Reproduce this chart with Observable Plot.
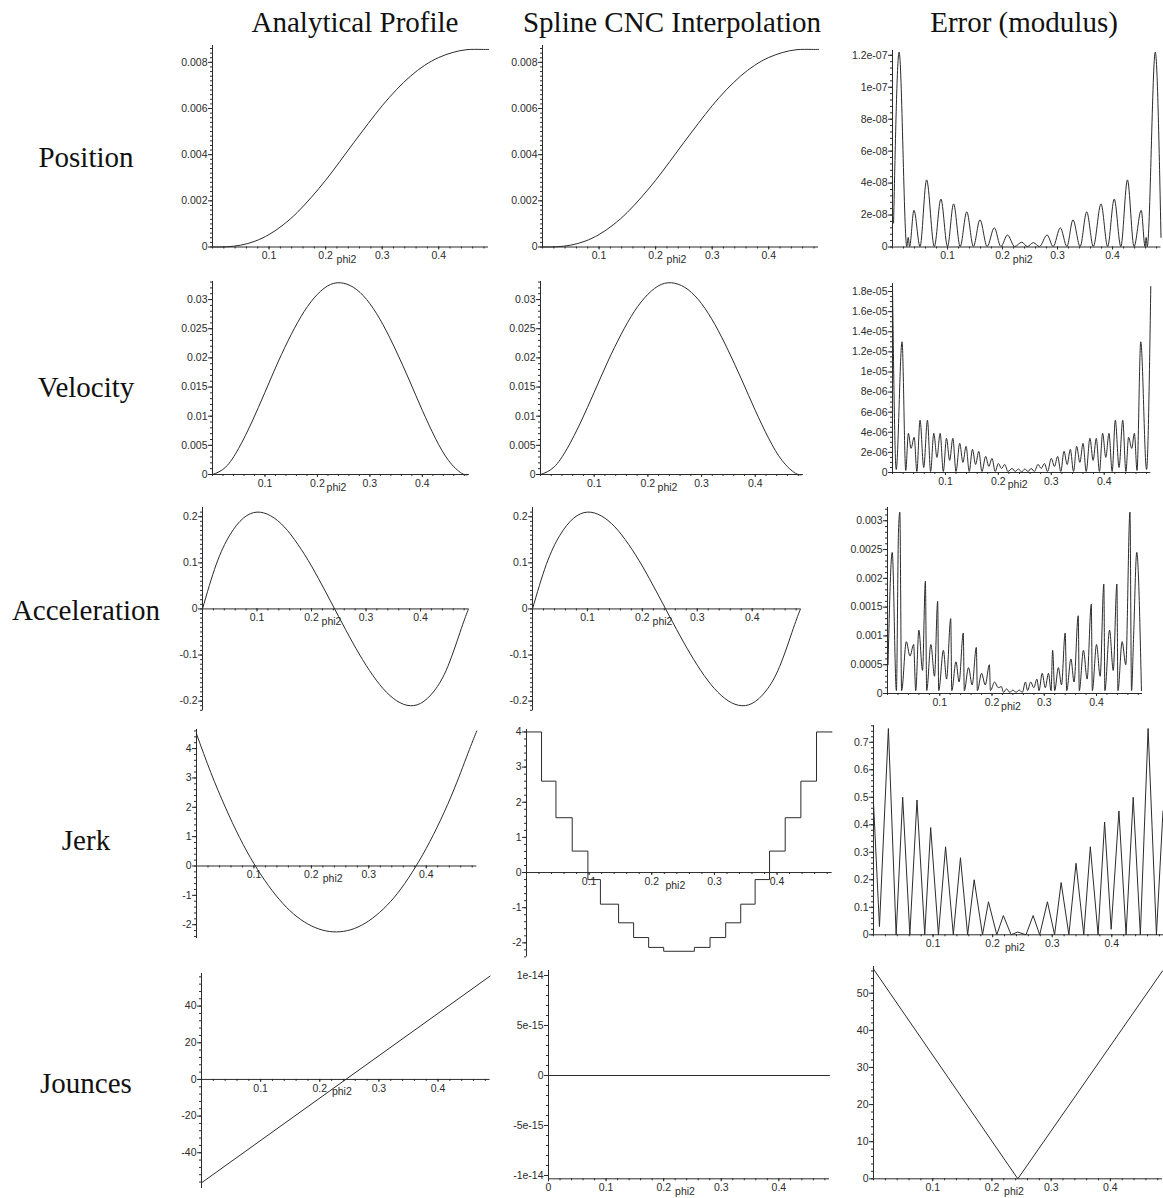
<!DOCTYPE html>
<html><head><meta charset="utf-8">
<script src="https://cdn.jsdelivr.net/npm/d3@7"></script>
<script src="https://cdn.jsdelivr.net/npm/@observablehq/plot@0.6"></script>
<style>
body{margin:0;background:#fff;}
#fig{position:relative;width:1163px;height:1198px;overflow:hidden;background:#fff;}
.ttl{position:absolute;font-family:"Liberation Serif","Times New Roman",serif;font-size:29px;color:#111;white-space:nowrap;transform:translate(-50%,-50%);line-height:1;}
.pnl{position:absolute;}
</style></head><body><div id="fig"></div>
<script>
// ---------- text ----------
const columnTitles = ["Analytical Profile", "Spline CNC Interpolation", "Error (modulus)"];
const rowTitles = ["Position", "Velocity", "Acceleration", "Jerk", "Jounces"];
const axisName = "phi2";

// ---------- sampled analytical / spline profiles ----------
const phiSamples = [0, 0.025, 0.05, 0.075, 0.1, 0.125, 0.15, 0.175, 0.2, 0.225, 0.25, 0.275, 0.3, 0.325, 0.35, 0.375, 0.4, 0.425, 0.45, 0.475, 0.488];
const positionProfile = [0, 0.00001, 0.00008, 0.00025, 0.00054, 0.00096, 0.0015, 0.00216, 0.00289, 0.0037, 0.00453, 0.00534, 0.00612, 0.00681, 0.0074, 0.00787, 0.00821, 0.00843, 0.00855, 0.00856, 0.00856];
const velocityProfile = [0, 0.00126, 0.0045, 0.009, 0.0141, 0.0193, 0.024, 0.028, 0.0309, 0.0326, 0.0328, 0.0317, 0.0293, 0.0257, 0.0212, 0.0162, 0.011, 0.0062, 0.0024, 0.0002, 0];
const accelerationProfile = [0, 0.096, 0.16, 0.197, 0.21, 0.202, 0.178, 0.14, 0.093, 0.039, -0.017, -0.072, -0.122, -0.164, -0.194, -0.209, -0.205, -0.178, -0.125, -0.042, 0];
const jerkProfile = [4.5, 3.18, 2.01, 0.97, 0.08, -0.66, -1.27, -1.73, -2.04, -2.21, -2.24, -2.13, -1.87, -1.47, -0.93, -0.23, 0.6, 1.57, 2.69, 3.96, 4.6];
// spline position/velocity/acceleration are visually identical to the analytical ones
const positionSpline = positionProfile;
const velocitySpline = velocityProfile;
const accelerationSpline = accelerationProfile;
// spline jerk: piecewise constant
const jerkStepPhi = [0, 0.024, 0.047, 0.073, 0.098, 0.118, 0.147, 0.171, 0.195, 0.219, 0.268, 0.293, 0.318, 0.342, 0.365, 0.388, 0.413, 0.438, 0.463, 0.488];
const jerkStepVal = [4, 2.6, 1.56, 0.61, -0.2, -0.9, -1.43, -1.85, -2.13, -2.24, -2.13, -1.85, -1.43, -0.9, -0.2, 0.61, 1.56, 2.6, 4, 4];
// jounces
const jouncePhi = [0, 0.488];
const jounceProfile = [-56.4, 56.4];
const jounceSpline = [0, 0];
const jounceErrPhi = [0, 0.2437, 0.488];
const jounceErr = [56.5, 0, 56];

// ---------- errors (modulus) ----------
const errPosPhi = [0.002, 0.012, 0.026, 0.0285, 0.031, 0.039, 0.050, 0.062, 0.076, 0.088, 0.100, 0.111, 0.123, 0.135, 0.147, 0.159, 0.172, 0.185, 0.197, 0.209, 0.222, 0.235, 0.245, 0.256, 0.267, 0.281, 0.292, 0.305, 0.317, 0.328, 0.341, 0.353, 0.365, 0.379, 0.391, 0.403, 0.415, 0.427, 0.439, 0.452, 0.459, 0.461, 0.463, 0.4776, 0.488];
const errPosVal = [1.5e-8, 12.2e-8, 0.03e-8, 0.6e-8, 0.03e-8, 2.3e-8, 0.03e-8, 4.2e-8, 0.03e-8, 3.0e-8, 0.03e-8, 2.7e-8, 0.03e-8, 2.2e-8, 0.03e-8, 1.7e-8, 0.03e-8, 1.2e-8, 0.03e-8, 0.75e-8, 0.03e-8, 0.3e-8, 0.03e-8, 0.27e-8, 0.03e-8, 0.75e-8, 0.03e-8, 1.2e-8, 0.03e-8, 1.7e-8, 0.03e-8, 2.2e-8, 0.03e-8, 2.7e-8, 0.03e-8, 3.0e-8, 0.03e-8, 4.2e-8, 0.03e-8, 2.3e-8, 0.03e-8, 0.6e-8, 0.03e-8, 12.2e-8, 0.6e-8];

const errVelPhi = [0, 0.007, 0.018, 0.025, 0.030, 0.035, 0.041, 0.046, 0.052, 0.059, 0.066, 0.072, 0.078, 0.084, 0.090, 0.096, 0.102, 0.108, 0.114, 0.120, 0.127, 0.133, 0.139, 0.145, 0.151, 0.157, 0.163, 0.169, 0.176, 0.182, 0.188, 0.194, 0.200, 0.206, 0.212, 0.218, 0.226, 0.232, 0.238, 0.244, 0.250, 0.256, 0.262, 0.268, 0.275, 0.281, 0.287, 0.293, 0.300, 0.306, 0.312, 0.318, 0.324, 0.330, 0.336, 0.342, 0.348, 0.354, 0.360, 0.366, 0.373, 0.379, 0.385, 0.391, 0.397, 0.403, 0.409, 0.415, 0.421, 0.428, 0.435, 0.441, 0.446, 0.452, 0.457, 0.462, 0.469, 0.480, 0.488];
const errVelVal = [18.5, 0.3, 13, 0.2, 3.9, 2.4, 3.5, 0.1, 5.2, 0.5, 5.2, 0.1, 3.9, 1.5, 3.9, 0.1, 3.4, 1.2, 3.4, 0.1, 2.9, 1.0, 2.6, 0.1, 2.3, 0.8, 2.1, 0.1, 1.6, 0.6, 1.4, 0.1, 0.9, 0.4, 0.8, 0.1, 0.4, 0.1, 0.35, 0.05, 0.35, 0.1, 0.4, 0.1, 0.8, 0.4, 0.9, 0.1, 1.4, 0.6, 1.6, 0.1, 2.1, 0.8, 2.3, 0.1, 2.6, 1.0, 2.9, 0.1, 3.4, 1.2, 3.4, 0.1, 3.9, 1.5, 3.9, 0.1, 5.2, 0.5, 5.2, 0.1, 3.5, 2.4, 3.9, 0.2, 13, 0.3, 18.5].map(v => v * 1e-6);

const errAccPhi = [0.001, 0.009, 0.017, 0.021, 0.0236, 0.027, 0.036, 0.043, 0.050, 0.054, 0.060, 0.067, 0.0725, 0.075, 0.083, 0.090, 0.096, 0.098, 0.107, 0.113, 0.121, 0.123, 0.131, 0.137, 0.145, 0.147, 0.155, 0.162, 0.170, 0.172, 0.180, 0.187, 0.195, 0.197, 0.205, 0.212, 0.218, 0.222, 0.228, 0.234, 0.240, 0.246, 0.252, 0.258, 0.264, 0.268, 0.274, 0.280, 0.286, 0.290, 0.296, 0.302, 0.308, 0.313, 0.316, 0.320, 0.327, 0.333, 0.340, 0.343, 0.351, 0.357, 0.365, 0.367, 0.375, 0.382, 0.390, 0.392, 0.400, 0.407, 0.414, 0.416, 0.425, 0.432, 0.439, 0.441, 0.449, 0.456, 0.464, 0.467, 0.471, 0.477, 0.486];
const errAccVal = [0.5, 2.45, 0.05, 2.8, 3.15, 0.05, 0.9, 0.65, 0.85, 0.05, 1.1, 0.4, 1.95, 0.05, 0.85, 0.3, 1.6, 0.05, 0.75, 0.25, 1.3, 0.05, 0.55, 0.2, 1.05, 0.05, 0.45, 0.15, 0.8, 0.05, 0.35, 0.15, 0.5, 0.05, 0.2, 0.1, 0.12, 0.02, 0.08, 0.02, 0.06, 0.02, 0.06, 0.02, 0.2, 0.05, 0.2, 0.1, 0.25, 0.05, 0.35, 0.1, 0.35, 0.05, 0.75, 0.05, 0.45, 0.15, 1.05, 0.05, 0.6, 0.2, 1.35, 0.05, 0.75, 0.25, 1.55, 0.05, 0.85, 0.3, 1.9, 0.05, 1.1, 0.4, 1.9, 0.05, 0.9, 0.5, 3.15, 0.05, 1.0, 2.45, 0.05].map(v => v * 1e-3);

const errJerkPhi = [0, 0.010, 0.025, 0.038, 0.049, 0.061, 0.073, 0.086, 0.096, 0.109, 0.121, 0.134, 0.146, 0.158, 0.169, 0.183, 0.193, 0.207, 0.218, 0.231, 0.242, 0.256, 0.268, 0.279, 0.292, 0.304, 0.315, 0.328, 0.340, 0.353, 0.364, 0.377, 0.388, 0.399, 0.412, 0.424, 0.436, 0.448, 0.461, 0.475, 0.486];
const errJerkVal = [0.48, 0.03, 0.75, 0, 0.5, 0, 0.49, 0, 0.39, 0, 0.32, 0, 0.28, 0, 0.2, 0, 0.12, 0, 0.07, 0, 0.01, 0, 0.07, 0, 0.12, 0, 0.19, 0, 0.26, 0, 0.32, 0, 0.41, 0.02, 0.45, 0, 0.5, 0, 0.75, 0, 0.45];

// ---------- tick values and labels ----------
const xTicks = [0.1, 0.2, 0.3, 0.4];
const xTickLabels = ["0.1", "0.2", "0.3", "0.4"];
const xTicksZero = [0, 0.1, 0.2, 0.3, 0.4];
const xTickLabelsZero = ["0", "0.1", "0.2", "0.3", "0.4"];
const posTicks = [0, 0.002, 0.004, 0.006, 0.008];
const posLabels = ["0", "0.002", "0.004", "0.006", "0.008"];
const posErrTicks = [0, 2e-8, 4e-8, 6e-8, 8e-8, 1e-7, 1.2e-7];
const posErrLabels = ["0", "2e-08", "4e-08", "6e-08", "8e-08", "1e-07", "1.2e-07"];
const velTicks = [0, 0.005, 0.01, 0.015, 0.02, 0.025, 0.03];
const velLabels = ["0", "0.005", "0.01", "0.015", "0.02", "0.025", "0.03"];
const velErrTicks = [0, 2e-6, 4e-6, 6e-6, 8e-6, 1e-5, 1.2e-5, 1.4e-5, 1.6e-5, 1.8e-5];
const velErrLabels = ["0", "2e-06", "4e-06", "6e-06", "8e-06", "1e-05", "1.2e-05", "1.4e-05", "1.6e-05", "1.8e-05"];
const accTicks = [-0.2, -0.1, 0, 0.1, 0.2];
const accLabels = ["-0.2", "-0.1", "0", "0.1", "0.2"];
const accErrTicks = [0, 0.0005, 0.001, 0.0015, 0.002, 0.0025, 0.003];
const accErrLabels = ["0", "0.0005", "0.001", "0.0015", "0.002", "0.0025", "0.003"];
const jerkTicks = [-2, -1, 0, 1, 2, 3, 4];
const jerkLabels = ["-2", "-1", "0", "1", "2", "3", "4"];
const jerkErrTicks = [0, 0.1, 0.2, 0.3, 0.4, 0.5, 0.6, 0.7];
const jerkErrLabels = ["0", "0.1", "0.2", "0.3", "0.4", "0.5", "0.6", "0.7"];
const jnTicks = [-40, -20, 0, 20, 40];
const jnLabels = ["-40", "-20", "0", "20", "40"];
const jnSplTicks = [-1e-14, -5e-15, 0, 5e-15, 1e-14];
const jnSplLabels = ["-1e-14", "-5e-15", "0", "5e-15", "1e-14"];
const jnErrTicks = [0, 10, 20, 30, 40, 50];
const jnErrLabels = ["0", "10", "20", "30", "40", "50"];

// ---------- layout (pixel boxes: y-axis x, x-axis end, top, bottom) ----------
const INK = "#2b2b2b";
const fig = document.getElementById("fig");
const colTitleX = [355, 672, 1024], colTitleY = 22;
const rowTitleX = 86, rowTitleY = [157, 387, 610, 840, 1083];

const zip = (xs, ys) => xs.map((x, i) => ({x, y: ys[i]}));

const panels = [
  {box: [212, 488, 45, 246.5], yDomain: [0, 0.00873], yT: posTicks, yL: posLabels, minor: 10, series: zip(phiSamples, positionProfile), curve: "natural"},
  {box: [542, 818, 45, 246.5], yDomain: [0, 0.00873], yT: posTicks, yL: posLabels, minor: 10, series: zip(phiSamples, positionSpline), curve: "natural"},
  {box: [891.5, 1160, 49.5, 246], yDomain: [0, 1.23e-7], yT: posErrTicks, yL: posErrLabels, minor: 5, series: zip(errPosPhi, errPosVal), curve: "monotone-x"},

  {box: [212, 468, 281, 474], yDomain: [0, 0.0331], yT: velTicks, yL: velLabels, minor: 5, series: zip(phiSamples, velocityProfile), curve: "natural"},
  {box: [540, 802, 281, 474], yDomain: [0, 0.0331], yT: velTicks, yL: velLabels, minor: 5, series: zip(phiSamples, velocitySpline), curve: "natural"},
  {box: [891.7, 1150, 282.7, 471.7], yDomain: [0, 1.88e-5], yT: velErrTicks, yL: velErrLabels, minor: 4, series: zip(errVelPhi, errVelVal), curve: "monotone-x"},

  {box: [202.3, 468.3, 506.7, 710], yDomain: [-0.221, 0.22], yT: accTicks, yL: accLabels, minor: 10, series: zip(phiSamples, accelerationProfile), curve: "natural"},
  {box: [532, 800, 506.7, 710], yDomain: [-0.221, 0.22], yT: accTicks, yL: accLabels, minor: 10, series: zip(phiSamples, accelerationSpline), curve: "natural"},
  {box: [887.3, 1142.3, 506.7, 692.7], yDomain: [0, 0.00323], yT: accErrTicks, yL: accErrLabels, minor: 5, series: zip(errAccPhi, errAccVal), curve: "monotone-x"},

  {box: [195.7, 476, 729.3, 938.3], yDomain: [-2.47, 4.65], yT: jerkTicks, yL: jerkLabels, minor: 5, series: zip(phiSamples, jerkProfile), curve: "natural"},
  {box: [526, 831.7, 729.3, 956.7], yDomain: [-2.4, 4.07], yT: jerkTicks, yL: jerkLabels, minor: 5, series: zip(jerkStepPhi, jerkStepVal), curve: "step-after"},
  {box: [873.3, 1164, 725, 934.3], yDomain: [0, 0.761], yT: jerkErrTicks, yL: jerkErrLabels, minor: 5, series: zip(errJerkPhi, errJerkVal), curve: "linear"},

  {box: [200.7, 489.3, 973.3, 1188.3], yDomain: [-59.5, 57.8], yT: jnTicks, yL: jnLabels, minor: 5, series: zip(jouncePhi, jounceProfile), curve: "linear"},
  {box: [548.3, 829.3, 970, 1178.3], yDomain: [-1.033e-14, 1.05e-14], yT: jnSplTicks, yL: jnSplLabels, minor: 5, series: zip(jouncePhi, jounceSpline), curve: "linear", bottomAxis: true},
  {box: [872.7, 1161.7, 966, 1178.3], yDomain: [0, 57.2], yT: jnErrTicks, yL: jnErrLabels, minor: 5, series: zip(jounceErrPhi, jounceErr), curve: "linear"}
];

const X_MAX = 0.488;
const ml = 50, mr = 4, mt = 4, mb = 26;

function minorTicks(ticks, n, dom) {
  const step = (ticks[1] - ticks[0]) / n;
  const out = [];
  for (let v = ticks[0] - step * Math.ceil((ticks[0] - dom[0]) / step); v <= dom[1] + 1e-30; v += step) {
    if (v >= dom[0] - step * 1e-6) out.push(v);
  }
  return out;
}

for (const p of panels) {
  const [x0, x1, yTop, yBot] = p.box;
  const iw = x1 - x0, ih = yBot - yTop;
  const [ymin, ymax] = p.yDomain;
  const axisY0 = p.bottomAxis ? ymin : 0;
  const off = (axisY0 - ymin) / (ymax - ymin) * ih;
  const xt = p.bottomAxis ? xTicksZero : xTicks;
  const xl = p.bottomAxis ? xTickLabelsZero : xTickLabels;
  const xMinor = minorTicks([0, 0.02], 1, [0, X_MAX]);
  const yMinor = minorTicks(p.yT, p.minor, p.yDomain);
  const svg = Plot.plot({
    width: iw + ml + mr,
    height: ih + mt + mb,
    marginLeft: ml, marginRight: mr, marginTop: mt, marginBottom: mb,
    x: {domain: [0, X_MAX], label: null},
    y: {domain: p.yDomain, label: null},
    style: {fontFamily: "'Liberation Sans', Arial, sans-serif", fontSize: "10.5px", color: INK, background: "transparent", overflow: "visible"},
    marks: [
      Plot.axisY({ticks: yMinor, tickSize: 2, tickFormat: () => "", label: null, color: INK}),
      Plot.axisY({ticks: p.yT, tickSize: 4, tickPadding: 1, tickFormat: d => p.yL[p.yT.indexOf(d)], label: null, color: INK, fontSize: 10.5}),
      Plot.axisX({ticks: xMinor, tickSize: 2, tickFormat: () => "", label: null, color: INK, dy: -off}),
      Plot.axisX({ticks: xt, tickSize: 3, tickPadding: 2, tickFormat: d => xl[xt.indexOf(d)], label: null, color: INK, fontSize: 10.5, dy: -off}),
      Plot.ruleX([0], {stroke: INK}),
      Plot.ruleY([axisY0], {stroke: INK}),
      Plot.text([axisName], {frameAnchor: "bottom", dx: -4, dy: -off + 16, fill: INK, fontSize: 10.5}),
      Plot.line(p.series, {x: "x", y: "y", curve: p.curve, stroke: INK, strokeWidth: 1})
    ]
  });
  svg.classList.add("pnl");
  svg.style.left = (x0 - ml) + "px";
  svg.style.top = (yTop - mt) + "px";
  fig.appendChild(svg);
}

columnTitles.forEach((t, i) => {
  const d = document.createElement("div");
  d.className = "ttl"; d.textContent = t;
  d.style.left = colTitleX[i] + "px"; d.style.top = colTitleY + "px";
  fig.appendChild(d);
});
rowTitles.forEach((t, i) => {
  const d = document.createElement("div");
  d.className = "ttl"; d.textContent = t;
  d.style.left = rowTitleX + "px"; d.style.top = rowTitleY[i] + "px";
  fig.appendChild(d);
});
</script></body></html>
